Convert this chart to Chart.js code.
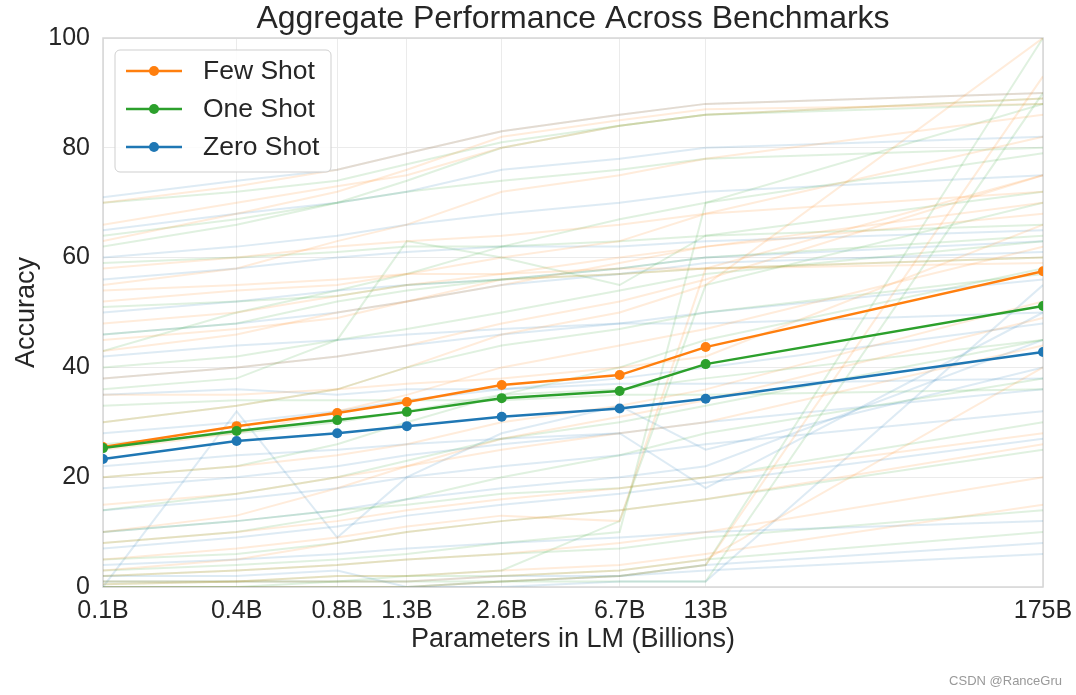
<!DOCTYPE html>
<html>
<head>
<meta charset="utf-8">
<script src="https://cdn.jsdelivr.net/npm/chart.js@4.4.1/dist/chart.umd.min.js"></script>
<style>
  html, body { margin: 0; padding: 0; background: #fff; }
  #wrap { position: relative; width: 1076px; height: 695px; }
  #mark { position: absolute; right: 14px; bottom: 7px; font: 13px 'Liberation Sans', Arial, sans-serif; color: #999; }
</style>
</head>
<body>
<div id="wrap">
  <canvas id="chart" width="1076" height="695"></canvas>
  <div id="mark">CSDN @RanceGru</div>
</div>
<script>
// model sizes in billions (log x axis) and the labels printed under them
const paramsB = [0.125, 0.35, 0.76, 1.3, 2.7, 6.7, 13, 175];
const tickLabels = ['0.1B', '0.4B', '0.8B', '1.3B', '2.6B', '6.7B', '13B', '175B'];

// aggregate curves
const fewShot = [25.5, 29.3, 31.7, 33.7, 36.8, 38.6, 43.7, 57.5];
const oneShot = [25.3, 28.4, 30.4, 31.9, 34.4, 35.7, 40.6, 51.2];
const zeroShot = [23.3, 26.6, 28.0, 29.3, 31.0, 32.5, 34.3, 42.8];

// per-benchmark curves (faint)
const fewShotTasks = [
  [66, 70, 73, 75, 80, 84, 86, 89],
  [63, 68, 72, 76, 82, 85, 87, 88],
  [55, 58, 63, 66, 72, 75, 78, 86],
  [52, 54, 55, 57, 60, 63, 68, 82],
  [48, 50, 53, 55, 57, 60, 62, 70],
  [43, 46, 50, 52, 56, 57, 58, 60],
  [38, 40, 42, 44, 48, 52, 56, 75],
  [35, 35, 36, 37, 38, 40, 42, 66],
  [30, 33, 36, 40, 46, 50, 55, 100],
  [25, 28, 32, 35, 40, 44, 47, 62],
  [20, 22, 24, 26, 30, 33, 36, 52],
  [15, 17, 20, 22, 25, 28, 30, 44],
  [10, 13, 18, 22, 27, 31, 34, 49],
  [8, 10, 12, 14, 16, 18, 20, 28],
  [5, 7, 9, 11, 13, 12, 58, 75],
  [3, 5, 8, 10, 12, 14, 16, 26],
  [2, 3, 4, 5, 6, 8, 10, 20],
  [1, 1, 2, 2, 3, 4, 6, 15],
  [0.5, 1, 1, 1, 2, 3, 5, 40],
  [0, 0, 0, 0, 1, 2, 4, 93],
  [45, 47, 49, 52, 55, 59, 62, 68],
  [58, 60, 62, 63, 64, 66, 68, 72],
  [54, 55, 56, 57, 57, 58, 58, 59],
  [70, 73, 76, 79, 83, 86, 88, 90]
];
const oneShotTasks = [
  [70, 72, 74, 77, 81, 84, 86, 88],
  [64, 67, 70, 72, 74, 76, 78, 80],
  [43, 50, 54, 57, 62, 67, 70, 79],
  [59, 60, 61, 62, 62, 63, 64, 66],
  [51, 52, 53, 55, 56, 57, 58, 60],
  [36, 38, 45, 63, 60, 55, 64, 72],
  [30, 33, 36, 40, 44, 47, 50, 57],
  [26, 28, 30, 32, 35, 36, 38, 45],
  [20, 22, 26, 30, 35, 40, 45, 58],
  [14, 17, 20, 23, 27, 30, 33, 45],
  [8, 10, 13, 16, 20, 24, 28, 38],
  [5, 6, 8, 10, 12, 14, 16, 25],
  [2, 3, 4, 5, 6, 7, 9, 14],
  [0.5, 1, 1, 2, 2, 3, 5, 10],
  [0, 0, 1, 1, 1, 2, 4, 100],
  [3, 4, 5, 6, 8, 10, 70, 88],
  [1, 1, 2, 2, 3, 12, 55, 70],
  [0, 0, 0, 0, 1, 1, 1, 90],
  [40, 42, 45, 47, 50, 54, 57, 63],
  [33, 34, 34, 34, 34, 35, 35, 36],
  [10, 12, 14, 15, 17, 18, 20, 30],
  [46, 48, 52, 54, 56, 58, 60, 64],
  [62, 66, 70, 74, 80, 84, 86, 89]
];
const zeroShotTasks = [
  [71, 74, 76, 79, 83, 86, 88, 90],
  [65, 68, 70, 72, 76, 78, 80, 82],
  [56, 58, 60, 61, 62, 62, 63, 65],
  [50, 52, 54, 55, 56, 58, 60, 63],
  [42, 44, 45, 46, 47, 48, 48, 50],
  [35, 36, 35, 36, 36, 37, 37, 38],
  [0, 32, 9, 20, 28, 33, 25, 40],
  [28, 30, 32, 34, 36, 38, 40, 48],
  [22, 24, 25, 26, 27, 28, 30, 36],
  [14, 16, 18, 20, 22, 24, 26, 32],
  [7, 9, 11, 13, 15, 17, 19, 27],
  [4, 5, 6, 7, 8, 9, 10, 12],
  [2, 2, 3, 0, 1, 2, 4, 8],
  [1, 1, 1, 1, 2, 2, 3, 6],
  [0, 0, 0, 0, 0, 1, 1, 55],
  [38, 40, 42, 44, 46, 48, 50, 56],
  [60, 62, 64, 66, 68, 70, 72, 75],
  [18, 20, 22, 24, 26, 28, 18, 50],
  [10, 12, 14, 16, 18, 20, 22, 45],
  [46, 48, 50, 52, 55, 57, 59, 61]
];

const ORANGE = '#ff7f0e';
const GREEN = '#2ca02c';
const BLUE = '#1f77b4';
const FONT = "'Liberation Sans', Arial, sans-serif";
const TEXT = '#262626';

const toPoints = (vals) => vals.map((v, i) => ({ x: paramsB[i], y: v }));

function faint(rows, rgb, name) {
  return rows.map((r, i) => ({
    label: name + ' ' + (i + 1),
    data: toPoints(r),
    borderColor: 'rgba(' + rgb + ',0.15)',
    borderWidth: 2,
    pointRadius: 0,
    order: 10,
  }));
}

function main(label, vals, color, order) {
  return {
    label: label,
    data: toPoints(vals),
    borderColor: color,
    backgroundColor: color,
    borderWidth: 2.5,
    pointRadius: 5,
    pointBorderWidth: 0,
    order: order,
  };
}

const mainSets = [
  main('Few Shot', fewShot, ORANGE, 3),
  main('One Shot', oneShot, GREEN, 2),
  main('Zero Shot', zeroShot, BLUE, 1),
];

// frame around the plot area
const frame = {
  id: 'frame',
  beforeDatasetsDraw(chart) {
    const { ctx, chartArea: a } = chart;
    ctx.save();
    ctx.strokeStyle = '#d6d6d6';
    ctx.lineWidth = 1.5;
    ctx.strokeRect(a.left, a.top, a.right - a.left, a.bottom - a.top);
    ctx.restore();
  },
};

// legend drawn inside the plot, upper left, with a rounded box
const boxLegend = {
  id: 'boxLegend',
  afterDatasetsDraw(chart) {
    const { ctx, chartArea: a } = chart;
    const x0 = a.left + 12, y0 = a.top + 12, w = 216, h = 122;
    ctx.save();
    ctx.beginPath();
    ctx.roundRect(x0, y0, w, h, 5);
    ctx.fillStyle = 'rgba(255,255,255,0.85)';
    ctx.fill();
    ctx.strokeStyle = '#cfcfcf';
    ctx.lineWidth = 1;
    ctx.stroke();
    ctx.font = '26.5px ' + FONT;
    ctx.textBaseline = 'middle';
    mainSets.forEach((ds, i) => {
      const y = y0 + 21 + i * 38;
      ctx.strokeStyle = ds.borderColor;
      ctx.lineWidth = 2.5;
      ctx.beginPath();
      ctx.moveTo(x0 + 11, y);
      ctx.lineTo(x0 + 67, y);
      ctx.stroke();
      ctx.fillStyle = ds.borderColor;
      ctx.beginPath();
      ctx.arc(x0 + 39, y, 5, 0, Math.PI * 2);
      ctx.fill();
      ctx.fillStyle = TEXT;
      ctx.fillText(ds.label, x0 + 88, y + 1);
    });
    ctx.restore();
  },
};

new Chart(document.getElementById('chart'), {
  type: 'line',
  data: {
    datasets: [
      ...mainSets,
      ...faint(fewShotTasks, '255,127,14', 'few'),
      ...faint(oneShotTasks, '44,160,44', 'one'),
      ...faint(zeroShotTasks, '31,119,180', 'zero'),
    ],
  },
  options: {
    responsive: false,
    animation: false,
    devicePixelRatio: 1,
    layout: { padding: { top: 0, right: 33, bottom: 39, left: 0 } },
    elements: { line: { tension: 0 } },
    plugins: {
      legend: { display: false },
      tooltip: { enabled: false },
      title: {
        display: true,
        fullSize: false,
        text: 'Aggregate Performance Across Benchmarks',
        color: TEXT,
        font: { family: FONT, size: 32, weight: 'normal', lineHeight: 1.1875 },
        padding: 0,
      },
    },
    scales: {
      x: {
        type: 'logarithmic',
        min: 0.125,
        max: 175,
        afterBuildTicks: (axis) => {
          axis.ticks = paramsB.map((v) => ({ value: v }));
        },
        afterFit: (axis) => {
          axis.height = 69;
          axis.paddingLeft = 0;
          axis.paddingRight = 0;
        },
        ticks: {
          autoSkip: false,
          maxRotation: 0,
          padding: 9,
          color: TEXT,
          font: { family: FONT, size: 25 },
          callback: (value, index) => tickLabels[index],
        },
        grid: { color: '#ebebeb', drawTicks: false },
        border: { display: false },
        title: {
          display: true,
          text: 'Parameters in LM (Billions)',
          color: TEXT,
          font: { family: FONT, size: 27 },
          padding: 0,
        },
      },
      y: {
        min: 0,
        max: 100,
        afterFit: (axis) => { axis.width = 103; },
        ticks: {
          stepSize: 20,
          padding: 13,
          color: TEXT,
          font: { family: FONT, size: 25 },
        },
        grid: { color: '#ebebeb', drawTicks: false },
        border: { display: false },
        title: {
          display: true,
          text: 'Accuracy',
          color: TEXT,
          font: { family: FONT, size: 27 },
          padding: { top: 10, bottom: 0 },
        },
      },
    },
  },
  plugins: [frame, boxLegend],
});
</script>
</body>
</html>
